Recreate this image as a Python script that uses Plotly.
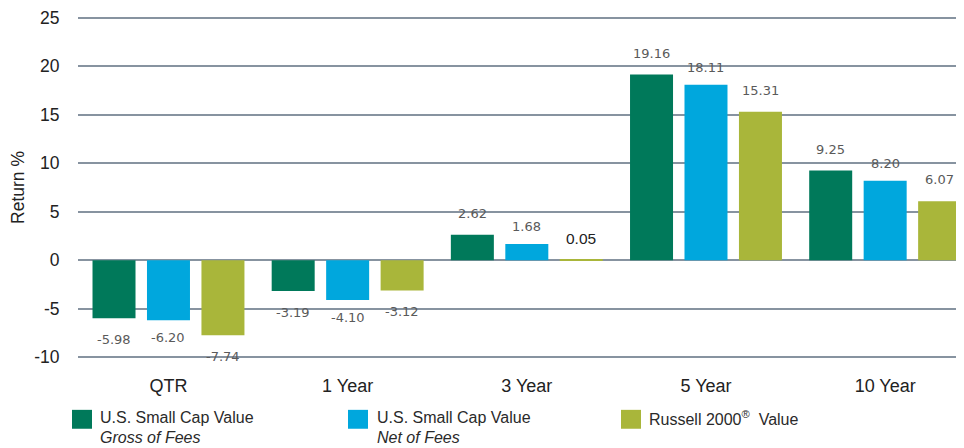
import plotly.graph_objects as go

categories = ["QTR", "1 Year", "3 Year", "5 Year", "10 Year"]
gross = [-5.98, -3.19, 2.62, 19.16, 9.25]
net = [-6.20, -4.10, 1.68, 18.11, 8.20]
russell = [-7.74, -3.12, 0.05, 15.31, 6.07]
label_gross = ["-5.98", "-3.19", "2.62", "19.16", "9.25"]
label_net = ["-6.20", "-4.10", "1.68", "18.11", "8.20"]
label_russell = ["-7.74", "-3.12", "0.05", "15.31", "6.07"]
series_names = ["U.S. Small Cap Value", "U.S. Small Cap Value", "Russell 2000<sup>®</sup>\u00a0 Value"]
series_sub = ["Gross of Fees", "Net of Fees", ""]
y_ticks = [-10, -5, 0, 5, 10, 15, 20, 25]
y_tick_text = ["-10", "-5", "0", "5", "10", "15", "20", "25"]

colors = ["#00795a", "#00a7dd", "#a9b63a"]
FONT = "Liberation Sans, Arial, sans-serif"
LABEL_FONT = "DejaVu Sans, sans-serif"

# page offset (default body margin of the html page)
OX, OY = 8, 8
W, H = 964 - OX, 448 - OY
# where y=25 and y=-10 sit in the reference (page pixels)
Y_TOP_PX, Y_BOT_PX = 16, 357
Y_LO, Y_HI = -10, 25
PAD_U = 0.4
ppu = (Y_BOT_PX - Y_TOP_PX) / (Y_HI - Y_LO)
y_range = [Y_LO - PAD_U, Y_HI + PAD_U]
PT = Y_TOP_PX - PAD_U * ppu
PB = Y_BOT_PX + PAD_U * ppu
PL, PR = 78, 964
ML, MR, MT, MB = PL - OX, 964 - PR, PT - OY, 448 - PB
plot_w = PR - PL
x_range = [-0.505, 4.44]
px_per_cat = plot_w / (x_range[1] - x_range[0])

bar_w = 0.24
offsets = [-0.304, 0.0, 0.304]
gaps = [21, 17.5, 21.5]

fig = go.Figure()
all_vals = [gross, net, russell]
all_labels = [label_gross, label_net, label_russell]
for i, vals in enumerate(all_vals):
    fig.add_trace(go.Bar(
        x=categories, y=vals, width=bar_w, offset=offsets[i] - bar_w / 2,
        marker=dict(color=colors[i], line=dict(width=0)),
        showlegend=False, hoverinfo="skip",
    ))

annotations = []
for i, vals in enumerate(all_vals):
    for c, v, lab in zip(categories, vals, all_labels[i]):
        small = abs(v) < 0.5
        annotations.append(dict(
            x=c, y=v, xref="x", yref="y", text=lab, showarrow=False,
            xshift=offsets[i] * px_per_cat,
            yshift=(gaps[i] if v >= 0 else -gaps[i]),
            yanchor="middle", xanchor="center",
            font=dict(family=FONT if small else LABEL_FONT,
                      size=15.5 if small else 13,
                      color="#222222" if small else "#5a5a5a"),
        ))

def pxx(px):
    return (px - PL) / (PR - PL)

def pxy(py):
    return (PB - py) / (PB - PT)

shapes = []
legend_sq_x = [72, 348, 621]
legend_txt_x = [98, 375, 647]
for i in range(3):
    shapes.append(dict(type="rect", xref="paper", yref="paper",
                       x0=pxx(legend_sq_x[i]), x1=pxx(legend_sq_x[i] + 20),
                       y0=pxy(429), y1=pxy(410),
                       fillcolor=colors[i], line=dict(width=0)))
    annotations.append(dict(x=pxx(legend_txt_x[i]), y=pxy(418), xref="paper", yref="paper",
                            text=series_names[i], showarrow=False, xanchor="left", yanchor="middle",
                            font=dict(family=FONT, size=16, color="#2a2a2a")))
    if series_sub[i]:
        annotations.append(dict(x=pxx(legend_txt_x[i]), y=pxy(438), xref="paper", yref="paper",
                                text="<i>" + series_sub[i] + "</i>", showarrow=False, xanchor="left", yanchor="middle",
                                font=dict(family=FONT, size=16, color="#2a2a2a")))

fig.update_layout(
    width=W, height=H,
    margin=dict(l=ML, r=MR, t=MT, b=MB, pad=0),
    plot_bgcolor="white", paper_bgcolor="white",
    barmode="overlay",
    font=dict(family=FONT, color="#222222"),
    xaxis=dict(type="category", range=x_range, showgrid=False, zeroline=False,
               showline=False, ticks="outside", ticklen=8, tickcolor="rgba(0,0,0,0)",
               tickfont=dict(size=18, color="#222222"), fixedrange=True),
    yaxis=dict(range=y_range, tickvals=y_ticks, ticktext=y_tick_text,
               showgrid=True, gridcolor="#8793a0", gridwidth=1.5,
               zeroline=True, zerolinecolor="#8793a0", zerolinewidth=1.5,
               showline=False, ticks="outside", ticklen=14, tickcolor="rgba(0,0,0,0)",
               ticklabeloverflow="allow",
               tickfont=dict(size=17.5, color="#222222"),
               title=dict(text="Return %", font=dict(size=17.5, color="#222222"), standoff=12),
               fixedrange=True),
    annotations=annotations,
    shapes=shapes,
)

fig.write_html("out.html")
